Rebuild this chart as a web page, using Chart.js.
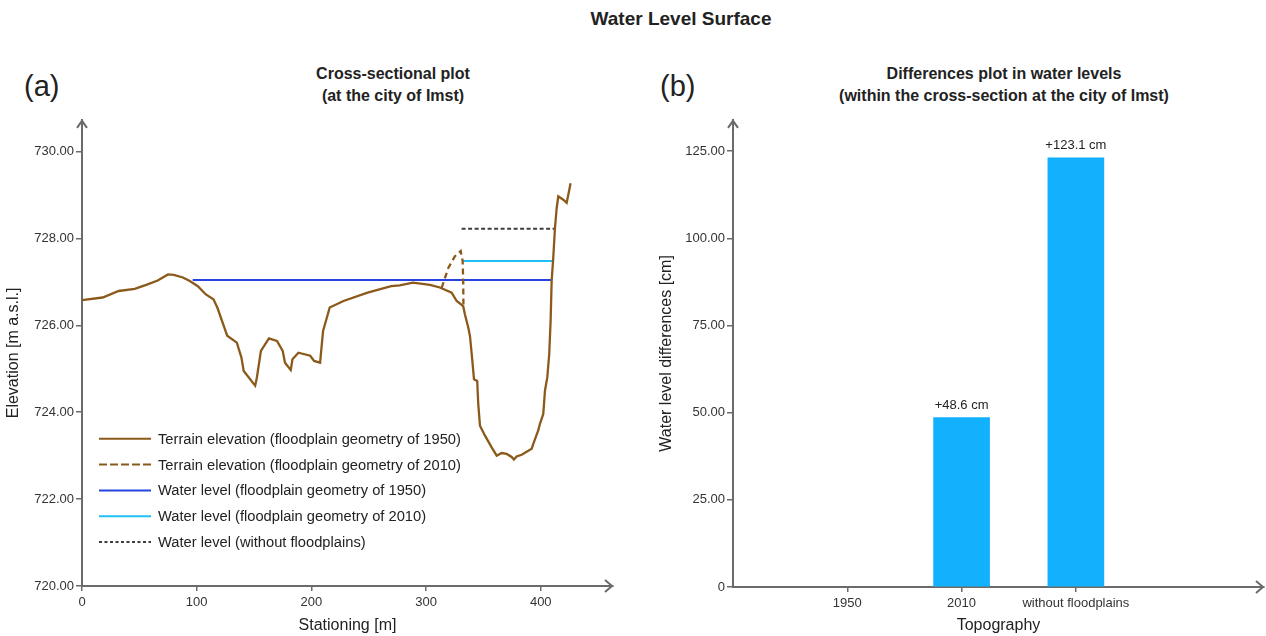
<!DOCTYPE html>
<html>
<head>
<meta charset="utf-8">
<script src="https://cdn.jsdelivr.net/npm/chart.js@4.4.0/dist/chart.umd.min.js"></script>
<style>
  body { margin: 0; width: 1266px; height: 636px; background: #fff; position: relative; overflow: hidden;
         font-family: "Liberation Sans", Arial, sans-serif; color: #222; }
  .t { position: absolute; white-space: nowrap; }
  .c { transform: translateX(-50%); text-align: center; }
  .main { left: 681px; top: 8px; font-size: 19px; line-height: 22px; font-weight: bold; }
  .panel { top: 69px; font-size: 29px; line-height: 34px; }
  .sub { top: 63px; font-size: 16px; line-height: 22px; font-weight: bold; }
  .box { position: absolute; top: 110px; width: 633px; height: 526px; }
</style>
</head>
<body>
<div class="t c main">Water Level Surface</div>
<div class="t panel" style="left:24px">(a)</div>
<div class="t panel" style="left:660px">(b)</div>
<div class="t c sub" style="left:393px">Cross-sectional plot<br>(at the city of Imst)</div>
<div class="t c sub" style="left:1004px">Differences plot in water levels<br>(within the cross-section at the city of Imst)</div>
<div class="box" style="left:0"><canvas id="crossChart"></canvas></div>
<div class="box" style="left:633px"><canvas id="diffChart"></canvas></div>
<script>
// ---- data (a): cross-section at Imst ----
const terrain1950X = [0, 18, 32, 46, 56, 66, 75, 80, 88, 94, 101, 108, 114.6, 118, 126.6, 135, 139, 141, 151, 152.5,
  156, 163, 170, 175, 177, 182, 183.5, 188.7, 199, 202.4, 207.6, 210.2, 216, 228, 249, 269.6, 277, 288.6, 303.4, 312,
  322.3, 326.7, 332.4, 333.9, 336.8, 338.3, 339.8, 341.8, 344.6, 345.5, 347, 351.4, 357.2, 361.6, 365.9, 370.3, 374.6,
  376.6, 379, 383.4, 392.1, 393.5, 397.8, 399.3, 402.2, 403.7, 405.7, 407.4, 408.6, 409.5, 410.9, 412.4, 413.9, 415.3,
  419.6, 422.6, 424, 426];
const terrain1950Y = [726.58, 726.64, 726.79, 726.84, 726.93, 727.03, 727.17, 727.16, 727.10, 727.02, 726.90, 726.71,
  726.60, 726.41, 725.76, 725.60, 725.26, 724.95, 724.61, 724.80, 725.41, 725.70, 725.64, 725.41, 725.14, 724.97, 725.22,
  725.37, 725.30, 725.18, 725.14, 725.87, 726.41, 726.56, 726.75, 726.90, 726.92, 726.98, 726.93, 726.87, 726.75, 726.56,
  726.44, 726.25, 725.95, 725.75, 725.34, 724.76, 724.72, 724.19, 723.69, 723.46, 723.19, 723.00, 723.06, 723.04, 722.97,
  722.91, 722.98, 723.02, 723.16, 723.27, 723.58, 723.73, 723.96, 724.50, 724.80, 725.34, 726.10, 727.02, 727.55, 728.24,
  728.70, 728.97, 728.89, 728.82, 729.00, 729.27];
const terrain2010X = [313.6, 319.4, 325.2, 330.2, 331.9, 332.4, 332.6];
const terrain2010Y = [726.86, 727.32, 727.59, 727.71, 727.48, 727.02, 726.44];
const water1950X = [96.5, 410];
const water1950Y = [727.04, 727.04];
const water2010X = [332.2, 410.6];
const water2010Y = [727.48, 727.48];
const waterNoFpX = [331, 412.4];
const waterNoFpY = [728.22, 728.22];
const stationTicks = [0, 100, 200, 300, 400];
const elevationTicks = [720, 722, 724, 726, 728, 730];

// ---- data (b): differences in water levels ----
const topoLabels = ['1950', '2010', 'without floodplains'];
const diffValues = [0, 48.6, 123.1];
const diffLabels = ['', '+48.6 cm', '+123.1 cm'];
const diffTicks = [0, 25, 50, 75, 100, 125];

const FONT = "'Liberation Sans', Arial, sans-serif";
const axisColor = '#6b6b6b';
const barColor = '#12b1fd';
Chart.defaults.font.family = FONT;
Chart.defaults.color = '#333';

const toPoints = (xs, ys) => xs.map((x, i) => ({ x, y: ys[i] }));

const arrowPlugin = {
  id: 'axisArrows',
  afterDraw(chart) {
    const { ctx, chartArea: { left, top, right, bottom } } = chart;
    ctx.save();
    ctx.strokeStyle = axisColor;
    ctx.lineWidth = 2;
    ctx.beginPath();
    ctx.moveTo(left - 5, top + 8);
    ctx.lineTo(left, top + 1);
    ctx.lineTo(left + 5, top + 8);
    ctx.moveTo(right - 8, bottom - 6);
    ctx.lineTo(right - 1, bottom);
    ctx.lineTo(right - 8, bottom + 6);
    ctx.stroke();
    ctx.restore();
  }
};

// legend drawn inside the plot area, lower left
const insideLegend = {
  id: 'insideLegend',
  afterDraw(chart) {
    const { ctx, chartArea } = chart;
    const x0 = chartArea.left + 17, y0 = chartArea.top + 319;
    ctx.save();
    ctx.font = "14.7px " + FONT;
    ctx.textBaseline = 'middle';
    chart.data.datasets.forEach((ds, i) => {
      const y = y0 + i * 25.8;
      ctx.strokeStyle = ds.borderColor;
      ctx.lineWidth = 2;
      ctx.setLineDash(ds.legendDash || []);
      ctx.beginPath();
      ctx.moveTo(x0, y);
      ctx.lineTo(x0 + 52, y);
      ctx.stroke();
      ctx.setLineDash([]);
      ctx.fillStyle = '#222';
      ctx.fillText(ds.label, x0 + 59, y + 1);
    });
    ctx.restore();
  }
};

const barValueLabels = {
  id: 'barValueLabels',
  afterDatasetsDraw(chart) {
    const { ctx } = chart;
    const meta = chart.getDatasetMeta(0);
    ctx.save();
    ctx.font = "13px " + FONT;
    ctx.fillStyle = '#222';
    ctx.textAlign = 'center';
    ctx.textBaseline = 'middle';
    meta.data.forEach((bar, i) => {
      if (diffLabels[i]) ctx.fillText(diffLabels[i], bar.x, bar.y - 12);
    });
    ctx.restore();
  }
};

new Chart(document.getElementById('crossChart'), {
  type: 'line',
  data: {
    datasets: [
      { label: 'Terrain elevation (floodplain geometry of 1950)', data: toPoints(terrain1950X, terrain1950Y),
        borderColor: '#8b5a1b', borderWidth: 2.3 },
      { label: 'Terrain elevation (floodplain geometry of 2010)', data: toPoints(terrain2010X, terrain2010Y),
        borderColor: '#8b5a1b', borderWidth: 2.3, borderDash: [6, 4], legendDash: [8, 3] },
      { label: 'Water level (floodplain geometry of 1950)', data: toPoints(water1950X, water1950Y),
        borderColor: '#2443e0' },
      { label: 'Water level (floodplain geometry of 2010)', data: toPoints(water2010X, water2010Y),
        borderColor: '#1fc0f5' },
      { label: 'Water level (without floodplains)', data: toPoints(waterNoFpX, waterNoFpY),
        borderColor: '#3d3d3d', borderDash: [4, 2.5], legendDash: [3, 2.5] }
    ]
  },
  options: {
    responsive: true,
    maintainAspectRatio: false,
    animation: false,
    layout: { padding: { left: 0, right: 20, top: 8, bottom: 0 } },
    elements: { point: { radius: 0 }, line: { tension: 0, borderWidth: 2, fill: false } },
    plugins: { legend: { display: false }, tooltip: { enabled: false } },
    scales: {
      x: {
        type: 'linear', min: 0, max: 463,
        afterBuildTicks: s => { s.ticks = stationTicks.map(v => ({ value: v })); },
        afterFit: s => { s.height = 50; },
        grid: { drawOnChartArea: false, color: axisColor, lineWidth: 1.5, tickLength: 5 },
        border: { color: axisColor, width: 2 },
        ticks: { font: { size: 13 }, padding: 4, maxRotation: 0, callback: v => String(v) },
        title: { display: true, text: 'Stationing [m]', color: '#222', font: { size: 16 },
                 padding: { top: 0, bottom: 1 } }
      },
      y: {
        type: 'linear', min: 720, max: 730.73,
        afterBuildTicks: s => { s.ticks = elevationTicks.map(v => ({ value: v })); },
        afterFit: s => { s.width = 82; },
        grid: { drawOnChartArea: false, color: axisColor, lineWidth: 1.5, tickLength: 6 },
        border: { color: axisColor, width: 2 },
        ticks: { font: { size: 13 }, padding: 2, callback: v => v.toFixed(2) },
        title: { display: true, text: 'Elevation [m a.s.l.]', color: '#222', font: { size: 16 },
                 padding: { top: 4, bottom: 0 } }
      }
    }
  },
  plugins: [arrowPlugin, insideLegend]
});

new Chart(document.getElementById('diffChart'), {
  type: 'bar',
  data: {
    datasets: [{
      data: diffValues.map((v, i) => ({ x: i + 1, y: v })),
      backgroundColor: c => (c.raw && c.raw.y === 0 ? 'rgba(0,0,0,0)' : barColor),
      borderWidth: 0,
      barThickness: 56
    }]
  },
  options: {
    responsive: true,
    maintainAspectRatio: false,
    animation: false,
    layout: { padding: { left: 0, right: 2, top: 8, bottom: 0 } },
    plugins: { legend: { display: false }, tooltip: { enabled: false } },
    scales: {
      x: {
        type: 'linear', min: 0, max: 4.646, offset: false,
        afterBuildTicks: s => { s.ticks = topoLabels.map((_, i) => ({ value: i + 1 })); },
        afterFit: s => { s.height = 49; },
        grid: { offset: false, drawOnChartArea: false, color: axisColor, lineWidth: 1.5, tickLength: 5 },
        border: { color: axisColor, width: 2 },
        ticks: { font: { size: 13 }, padding: 4, maxRotation: 0, autoSkip: false,
                 callback: (v, i) => topoLabels[i] },
        title: { display: true, text: 'Topography', color: '#222', font: { size: 16 },
                 padding: { top: 0, bottom: 1 } }
      },
      y: {
        type: 'linear', min: 0, max: 134,
        afterBuildTicks: s => { s.ticks = diffTicks.map(v => ({ value: v })); },
        afterFit: s => { s.width = 100; },
        grid: { drawOnChartArea: false, color: axisColor, lineWidth: 1.5, tickLength: 6 },
        border: { color: axisColor, width: 2 },
        ticks: { font: { size: 13 }, padding: 2, callback: v => (v === 0 ? '0' : v.toFixed(2)) },
        title: { display: true, text: 'Water level differences [cm]', color: '#222', font: { size: 16 },
                 padding: { top: 24, bottom: 0 } }
      }
    }
  },
  plugins: [arrowPlugin, barValueLabels]
});
</script>
</body>
</html>
